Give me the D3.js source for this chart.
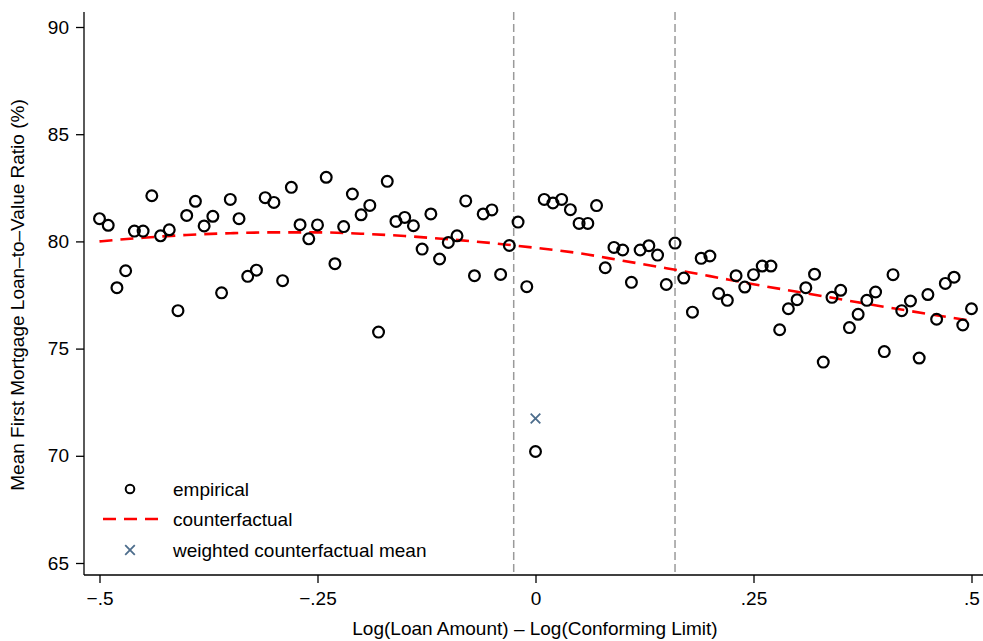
<!DOCTYPE html>
<html>
<head>
<meta charset="utf-8">
<script src="https://cdn.jsdelivr.net/npm/d3@7"></script>
<style>
  html, body { margin: 0; padding: 0; background: #fff; }
  svg { display: block; font-family: "Liberation Sans", Arial, Helvetica, sans-serif; }
</style>
</head>
<body>
<svg id="chart" width="983" height="641"></svg>
<script>
// ---------- data ----------
const binX = d3.range(-50, 51).map(i => i / 100); // bins of log(loan) - log(limit)
const empirical = [
  81.06, 80.75, 77.84, 78.63, 80.48, 80.48, 82.13, 80.26, 80.54, 76.77,
  81.21, 81.87, 80.72, 81.17, 77.60, 81.96, 81.06, 78.37, 78.66, 82.04,
  81.82, 78.17, 82.52, 80.78, 80.12, 80.77, 82.99, 78.96, 80.69, 82.21,
  81.24, 81.68, 75.77, 82.80, 80.93, 81.12, 80.73, 79.64, 81.28, 79.18,
  79.95, 80.26, 81.89, 78.40, 81.28, 81.47, 78.46, 79.81, 80.90, 77.89,
  70.20,
  81.96, 81.79, 81.96, 81.48, 80.84, 80.84, 81.67, 78.77, 79.72, 79.60,
  78.09, 79.60, 79.80, 79.36, 77.99, 79.92, 78.29, 76.70, 79.21, 79.32,
  77.57, 77.25, 78.40, 77.87, 78.45, 78.85, 78.85, 75.88, 76.86, 77.28,
  77.84, 78.47, 74.37, 77.39, 77.72, 75.98, 76.60, 77.25, 77.64, 74.86,
  78.45, 76.77, 77.22, 74.56, 77.52, 76.37, 78.04, 78.33, 76.10, 76.86
];
const cfX = [-0.5, -0.45, -0.4, -0.35, -0.3, -0.25, -0.2, -0.15, -0.1, -0.05,
             0, 0.05, 0.1, 0.15, 0.2, 0.25, 0.3, 0.35, 0.4, 0.45, 0.5];
const counterfactual = [80.00, 80.17, 80.30, 80.38, 80.42, 80.42, 80.36, 80.25, 80.10, 79.92,
                        79.70, 79.45, 79.10, 78.75, 78.38, 78.00, 77.65, 77.30, 76.95, 76.62, 76.30];
const weightedMean = { x: 0, y: 71.74 };
const cutoffs = [-0.025, 0.16];
const xTicks = [-0.5, -0.25, 0, 0.25, 0.5];
const xTickLabels = ["\u2212.5", "\u2212.25", "0", ".25", ".5"];
const yTicks = [65, 70, 75, 80, 85, 90];
const legendLabels = ["empirical", "counterfactual", "weighted counterfactual mean"];
const xTitle = "Log(Loan Amount) \u2013 Log(Conforming Limit)";
const yTitle = "Mean First Mortgage Loan\u2013to\u2013Value Ratio (%)";

// ---------- layout ----------
const svg = d3.select("#chart");
const plotL = 84, plotR = 983, plotT = 12, plotB = 575;
const x = d3.scaleLinear().domain([-0.5, 0.5]).range([99.5, 971.5]);
const y = d3.scaleLinear().domain([65, 90]).range([563, 27]);
const fs = 19;

// cutoff lines
svg.append("g").selectAll("line").data(cutoffs).join("line")
  .attr("x1", d => x(d)).attr("x2", d => x(d))
  .attr("y1", plotT).attr("y2", plotB)
  .attr("stroke", "#9a9a9a").attr("stroke-width", 1.5)
  .attr("stroke-dasharray", "8,4");

// counterfactual line
const cfData = cfX.map((v, i) => [v, counterfactual[i]]);
svg.append("path").datum(cfData)
  .attr("fill", "none").attr("stroke", "#ff0000").attr("stroke-width", 2.6)
  .attr("stroke-dasharray", "13,8")
  .attr("d", d3.line().x(d => x(d[0])).y(d => y(d[1])).curve(d3.curveMonotoneX));

// empirical circles
svg.append("g").selectAll("circle").data(binX.map((v, i) => [v, empirical[i]])).join("circle")
  .attr("cx", d => x(d[0])).attr("cy", d => y(d[1])).attr("r", 5.4)
  .attr("fill", "none").attr("stroke", "#000").attr("stroke-width", 2.2);

// weighted mean marker
function cross(g, cx, cy, s) {
  g.append("path")
    .attr("d", `M${cx - s},${cy - s}L${cx + s},${cy + s}M${cx - s},${cy + s}L${cx + s},${cy - s}`)
    .attr("stroke", "#4d6d8c").attr("stroke-width", 1.8).attr("fill", "none");
}
cross(svg, x(weightedMean.x), y(weightedMean.y), 4.8);

// axes
const yAxis = svg.append("g").attr("transform", `translate(${plotL},0)`)
  .call(d3.axisLeft(y).tickValues(yTicks).tickSize(8).tickPadding(7).tickFormat(d3.format("d")));
yAxis.select(".domain").attr("d", `M0,${plotT}V${plotB}`).attr("stroke-width", 1.3);
const xAxis = svg.append("g").attr("transform", `translate(0,${plotB})`)
  .call(d3.axisBottom(x).tickValues(xTicks).tickSize(8).tickPadding(9)
    .tickFormat((d, i) => xTickLabels[i]));
xAxis.select(".domain").attr("d", `M${plotL},0H${plotR}`).attr("stroke-width", 1.3);
svg.selectAll(".tick line").attr("stroke-width", 1.3);
svg.selectAll(".tick text").attr("font-size", fs).attr("fill", "#000")
  .attr("font-family", "'Liberation Sans', Arial, sans-serif");

// titles
svg.append("text").attr("x", 535).attr("y", 635).attr("text-anchor", "middle")
  .attr("font-size", fs).text(xTitle);
svg.append("text").attr("transform", "translate(24,295) rotate(-90)")
  .attr("text-anchor", "middle").attr("font-size", fs).text(yTitle);

// legend
const lg = svg.append("g");
lg.append("circle").attr("cx", 130).attr("cy", 489).attr("r", 4.3)
  .attr("fill", "none").attr("stroke", "#000").attr("stroke-width", 2);
lg.append("line").attr("x1", 103).attr("x2", 158).attr("y1", 519).attr("y2", 519)
  .attr("stroke", "#ff0000").attr("stroke-width", 2.6).attr("stroke-dasharray", "13,8");
cross(lg, 130, 550, 4.8);
lg.selectAll("text").data(legendLabels).join("text")
  .attr("x", 173).attr("y", (d, i) => 489 + i * 30.5)
  .attr("dy", "0.35em").attr("font-size", fs).text(d => d);
</script>
</body>
</html>
